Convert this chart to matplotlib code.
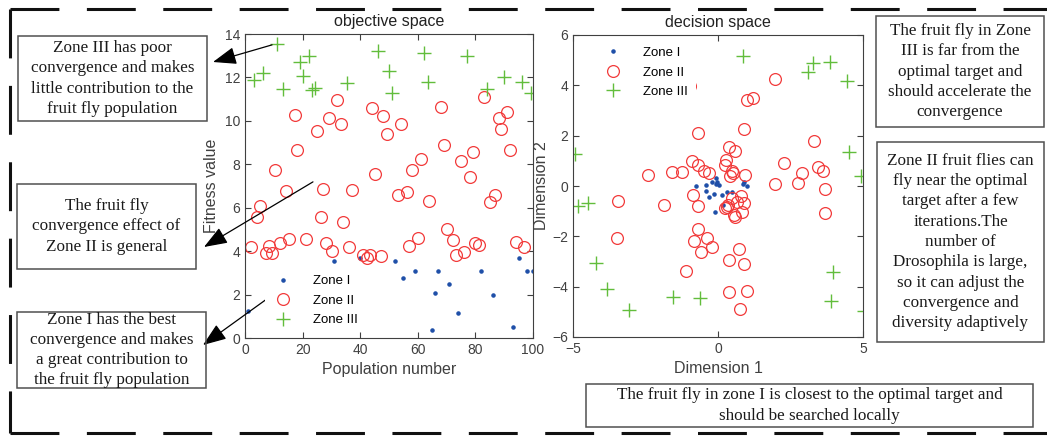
import numpy as np
import matplotlib
matplotlib.use('Agg')
import matplotlib.pyplot as plt
from matplotlib.patches import Rectangle
from matplotlib.lines import Line2D

# ---- objective space (population number vs fitness) ----
obj_z1_x = [1, 31, 40, 52, 55, 59, 65, 66, 67, 71, 74, 82, 86, 93, 95, 98, 100]
obj_z1_y = [1.26, 3.56, 3.67, 3.55, 2.76, 3.10, 0.37, 2.09, 3.10, 2.49, 1.14, 3.10, 1.98, 0.49, 3.67, 3.09, 3.10]

obj_z2_x = [2.0, 4.0, 5.2, 7.2, 8.3, 9.3, 10.3, 12.2, 14.2, 15.3, 17.4, 18.2, 21.2, 25.1, 26.3,
            27.2, 28.1, 29.3, 30.3, 32.0, 33.2, 34.1, 36.2, 37.2, 41.1, 42.2, 43.4, 44.2, 45.1, 47.1,
            48.0, 49.2, 53.1, 54.1, 56.1, 57.0, 58.0, 60.2, 61.0, 63.9, 68.1, 69.2, 70.0, 72.1, 73.2,
            75.1, 76.1, 78.1, 79.1, 79.9, 81.4, 83.0, 85.1, 86.9, 88.1, 89.0, 91.1, 92.0, 94.1, 96.9]
obj_z2_y = [4.21, 5.56, 6.08, 3.90, 4.24, 3.90, 7.74, 4.36, 6.77, 4.55, 10.27, 8.64, 4.55, 9.55, 5.59,
            6.88, 4.36, 10.12, 4.02, 10.96, 9.84, 5.36, 4.17, 6.82, 3.82, 3.67, 3.82, 10.61, 7.55, 3.79,
            10.24, 9.40, 6.59, 9.84, 6.74, 4.24, 7.74, 4.59, 8.26, 6.33, 10.65, 8.91, 5.00, 4.51, 3.82,
            8.14, 3.98, 7.43, 8.57, 4.36, 4.28, 11.10, 6.25, 6.59, 10.13, 9.64, 10.42, 8.64, 4.42, 4.17]

obj_z3_x = [3.1, 6.4, 11.2, 13.3, 19.1, 20.3, 22.3, 23.1, 24.3, 35.3,
            46.3, 50.1, 51.2, 62.3, 63.4, 77.0, 84.1, 89.9, 96.1, 99.3]
obj_z3_y = [11.88, 12.19, 13.54, 11.45, 12.71, 12.07, 13.00, 11.42, 11.50, 11.73,
            13.23, 12.31, 11.27, 13.11, 11.81, 13.00, 11.48, 12.00, 11.79, 11.27]

# ---- decision space (dimension 1 vs dimension 2) ----
dec_z1_x = [-0.08, -0.22, -0.05, -0.08, 0.05, -0.77, -0.42, -0.41, -0.30, -0.13,
            0.15, 0.30, 0.47, 0.18, -0.10, 0.85, 0.99, 0.90]
dec_z1_y = [0.30, 0.17, 0.17, 0.08, 0.04, 0.01, 0.04, -0.19, -0.45, -0.32,
            -0.37, -0.24, -0.24, -0.77, -1.05, 0.07, 0.01, 0.17]

dec_z2_x = [1.97, 0.99, 1.22, -0.98, -0.68, 0.91, 3.31, 0.38, 0.59, -0.88, -0.70, 0.28, 0.24, 2.28,
            -2.40, -1.60, -1.25, -0.48, -0.31, 0.47, 0.53, 0.41, 0.93, 3.46, 3.63, 2.89, 2.77, 1.97,
            3.69, -0.87, -0.70, -3.44, -1.86, 3.69, 0.30, 0.24, 0.36, 0.47, 0.78, 0.67, 0.91, 0.84,
            0.55, 0.59, -0.70, -0.82, -0.39, -0.19, -0.59, 0.74, 0.39, 0.91, -1.10, -3.49, 0.39,
            0.99, 0.76]
dec_z2_y = [4.25, 3.42, 3.51, 3.97, 2.12, 2.25, 1.79, 1.56, 1.40, 1.00, 0.83, 1.03, 0.82, 0.90,
            0.42, 0.57, 0.57, 0.60, 0.53, 0.61, 0.53, 0.40, 0.44, 0.77, 0.61, 0.50, 0.11, 0.08,
            -0.12, -0.36, -0.78, -0.58, -0.75, -1.09, -0.82, -0.89, -0.75, -0.49, -0.38, -0.62, -0.69, -1.02,
            -1.15, -1.22, -1.71, -2.17, -2.08, -2.41, -2.64, -2.50, -2.94, -3.10, -3.36, -2.08, -4.20,
            -4.17, -4.90]

dec_z3_x = [0.87, 3.09, 3.29, 3.86, 4.44, 4.51, 4.93, -4.93, -4.84, -4.49,
            -4.21, -3.82, -3.08, -1.56, -0.62, 3.98, 3.89, 5.05]
dec_z3_y = [5.18, 4.54, 4.87, 4.94, 4.18, 1.35, 0.40, 1.26, -0.78, -0.66,
            -3.05, -4.11, -4.93, -4.40, -4.46, -3.40, -4.56, -4.97]

zone_labels = ['Zone I', 'Zone II', 'Zone III']

notes = [
    'Zone III has poor\nconvergence and makes\nlittle contribution to the\nfruit fly population',
    'The fruit fly\nconvergence effect of\nZone II is general',
    'Zone I has the best\nconvergence and makes\na great contribution to\nthe fruit fly population',
    'The fruit fly in Zone\nIII is far from the\noptimal target and\nshould accelerate the\nconvergence',
    'Zone II fruit flies can\nfly near the optimal\ntarget after a few\niterations.The\nnumber of\n'
    'Drosophila is large,\nso it can adjust the\nconvergence and\ndiversity adaptively',
    'The fruit fly in zone I is closest to the optimal target and\nshould be searched locally',
]

W, H = 1047, 438
fig = plt.figure(figsize=(W / 100, H / 100), dpi=100)
plt.rcParams['font.family'] = ['Liberation Sans', 'DejaVu Sans']

blue = '#1f4fa8'
red = '#f23a3a'
green = '#62bd3c'
axcol = '#404040'


def px(x, y):
    # pixel position (from top left) -> figure fraction
    return x / W, 1 - y / H


def style(ax):
    for s in ax.spines.values():
        s.set_color(axcol)
        s.set_linewidth(0.8)
    ax.tick_params(direction='in', top=True, right=True, colors=axcol,
                   labelsize=10, length=4, width=0.8)


def scatter_zones(ax, z1, z2, z3):
    ax.plot(z1[0], z1[1], '.', color=blue, ms=4.5, label=zone_labels[0])
    ax.plot(z2[0], z2[1], 'o', mfc='none', mec=red, ms=8.5, mew=0.9, label=zone_labels[1])
    ax.plot(z3[0], z3[1], '+', color=green, ms=9.5, mew=1.0, label=zone_labels[2])


leg_kw = dict(frameon=True, facecolor='white', edgecolor='none', framealpha=1, fontsize=9.5,
              handlelength=2, handletextpad=1.3, labelspacing=0.55)

ax1 = fig.add_axes([245 / W, 1 - 338 / H, 288 / W, 304 / H])
scatter_zones(ax1, (obj_z1_x, obj_z1_y), (obj_z2_x, obj_z2_y), (obj_z3_x, obj_z3_y))
ax1.set_xlim(0, 100)
ax1.set_ylim(0, 14)
ax1.set_xticks(np.arange(0, 101, 20))
ax1.set_yticks(np.arange(0, 15, 2))
ax1.set_xlabel('Population number', fontsize=11.5, color=axcol, labelpad=4)
ax1.set_ylabel('Fitness value', fontsize=11.5, color=axcol, labelpad=4)
ax1.set_title('objective space', fontsize=11.5, color='#222222')
style(ax1)
ax1.legend(loc='lower left', bbox_to_anchor=(0.048, 0.004), borderpad=0.3, **leg_kw)

ax2 = fig.add_axes([573 / W, 1 - 337 / H, 290 / W, 302 / H])
scatter_zones(ax2, (dec_z1_x, dec_z1_y), (dec_z2_x, dec_z2_y), (dec_z3_x, dec_z3_y))
ax2.set_xlim(-5, 5)
ax2.set_ylim(-6, 6)
ax2.set_xticks([-5, 0, 5])
ax2.set_yticks(np.arange(-6, 7, 2))
ax2.set_xlabel('Dimension 1', fontsize=11.5, color=axcol, labelpad=4)
ax2.set_ylabel('Dimension 2', fontsize=11.5, color=axcol, labelpad=2)
ax2.set_title('decision space', fontsize=11.5, color='#222222')
style(ax2)
leg2 = ax2.legend(loc='upper left', bbox_to_anchor=(0.05, 1.0), borderpad=0.6,
                  borderaxespad=0.3, **leg_kw)
leg2.set_zorder(2.2)

# note boxes: (left, top, right, bottom) in pixels
boxes = [(18, 36, 207, 121), (17, 184, 196, 269), (17, 312, 206, 388),
         (876, 16, 1044, 127), (877, 142, 1044, 342), (586, 384, 1033, 427)]
for (x0, y0, x1, y1), txt in zip(boxes, notes):
    fx0, fy1 = px(x0, y1)
    fig.add_artist(Rectangle((fx0, fy1), (x1 - x0) / W, (y1 - y0) / H, transform=fig.transFigure,
                             fill=False, edgecolor='#505050', lw=1.1))
    cx, cy = px((x0 + x1) / 2, (y0 + y1) / 2)
    fig.text(cx, cy, txt, ha='center', va='center', fontsize=12.3, family='Liberation Serif',
             color='#1a1a1a', linespacing=1.36)

# arrows from the zones to the notes
arrows = [((9.4, 13.5), (213, 62)), ((23.6, 7.19), (204, 247)), ((13.9, 2.4), (203, 345))]
for start, tip in arrows:
    ax1.annotate('', xy=px(*tip), xycoords='figure fraction', xytext=start, textcoords='data',
                 arrowprops=dict(arrowstyle='-|>,head_length=0.8,head_width=0.3', color='black',
                                 lw=0.9, mutation_scale=18, shrinkA=0, shrinkB=0))

# dashed outer frame
frame_kw = dict(transform=fig.transFigure, color='#111111', lw=2.2, linestyle=(0, (16, 9)))
for xs, ys in [((10, 1070), (9, 9)), ((10, 10), (9, 433)), ((10, 1070), (433, 433))]:
    fig.add_artist(Line2D([x / W for x in xs], [1 - y / H for y in ys], **frame_kw))

fig.savefig('out.png', dpi=100)
